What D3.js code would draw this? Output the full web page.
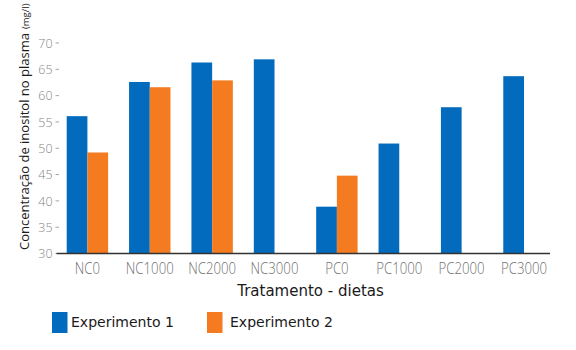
<!DOCTYPE html>
<html>
<head>
<meta charset="utf-8">
<script src="https://cdn.jsdelivr.net/npm/d3@7"></script>
<style>
  html, body { margin: 0; padding: 0; background: #fff; }
  svg { display: block; }
</style>
</head>
<body>
<svg id="chart" width="576" height="350"></svg>
<script>
// Plasma inositol concentration by diet treatment
const categories = ["NC0", "NC1000", "NC2000", "NC3000", "PC0", "PC1000", "PC2000", "PC3000"];
const seriesNames = ["Experimento 1", "Experimento 2"];
const experimento1 = [56.0, 62.5, 66.2, 66.8, 38.8, 50.8, 57.7, 63.6];
const experimento2 = [49.1, 61.5, 62.8, null, 44.7, null, null, null];
const yTicks = [30, 35, 40, 45, 50, 55, 60, 65, 70];
const colors = ["#026bbd", "#f57b20"];

const svg = d3.select("#chart");

const x = d3.scaleBand()
  .domain(categories)
  .range([66.7, 544.7])
  .paddingInner(0.336)
  .paddingOuter(0);

const xSeries = d3.scaleBand()
  .domain(seriesNames)
  .range([0, x.bandwidth()])
  .padding(0);

const y = d3.scaleLinear()
  .domain([30, 70])
  .range([253, 42.5]);

const seriesData = [experimento1, experimento2];

// Bars
const groups = svg.append("g")
  .selectAll("g")
  .data(categories)
  .join("g")
  .attr("transform", d => `translate(${x(d)},0)`);

groups.selectAll("rect")
  .data((d, i) => seriesNames.map((s, j) => ({ series: s, j, value: seriesData[j][i] })).filter(v => v.value != null))
  .join("rect")
  .attr("x", d => xSeries(d.series))
  .attr("width", xSeries.bandwidth())
  .attr("y", d => y(d.value))
  .attr("height", d => y(30) - y(d.value))
  .attr("fill", d => colors[d.j]);

// Y axis: light ticks and labels, no domain line
const yAxis = svg.append("g")
  .attr("transform", "translate(59,0)")
  .call(d3.axisLeft(y).tickValues(yTicks).tickSize(3.5).tickPadding(3).tickFormat(d3.format("d")));
yAxis.select(".domain").remove();
yAxis.selectAll(".tick line").attr("stroke", "#a5a5a5").attr("stroke-width", 1);
yAxis.selectAll(".tick text")
  .attr("fill", "#858585")
  .style("font-family", "'Open Sans', sans-serif")
  .style("font-weight", "300")
  .style("font-size", "13.5px")
  .attr("dy", "0.36em")
  .attr("transform", "scale(0.92,1)")
  .attr("x", -6.5 / 0.92);

// Baseline axis line
svg.append("line")
  .attr("x1", 56.5).attr("x2", 550)
  .attr("y1", 253.5).attr("y2", 253.5)
  .attr("stroke", "#333").attr("stroke-width", 1.6);

// Category labels
svg.append("g")
  .selectAll("text")
  .data(categories)
  .join("text")
  .attr("transform", d => `translate(${x(d) + x.bandwidth() / 2},274) scale(0.8,1)`)
  .attr("text-anchor", "middle")
  .attr("fill", "#707070")
  .style("font-family", "'Open Sans', sans-serif")
  .style("font-weight", "300")
  .style("font-size", "16.5px")
  .text(d => d);

// X axis title
svg.append("text")
  .attr("x", 310.5).attr("y", 296)
  .attr("text-anchor", "middle")
  .attr("fill", "#1a1a1a")
  .style("font-family", "'DejaVu Sans', sans-serif")
  .style("font-size", "15px")
  .text("Tratamento - dietas");

// Y axis title
const yTitle = svg.append("text")
  .attr("transform", "translate(29,250) rotate(-90)")
  .attr("text-anchor", "start")
  .attr("fill", "#1a1a1a")
  .style("font-family", "'Open Sans', sans-serif")
  .style("font-weight", "500");
yTitle.append("tspan")
  .style("font-size", "13.5px")
  .attr("textLength", 217)
  .attr("lengthAdjust", "spacingAndGlyphs")
  .text("Concentração de inositol no plasma");
yTitle.append("tspan")
  .attr("dx", 4)
  .style("font-size", "9.5px")
  .style("font-weight", "400")
  .text("(mg/l)");

// Legend
const legend = svg.append("g")
  .selectAll("g")
  .data(seriesNames)
  .join("g")
  .attr("transform", (d, i) => `translate(${[52, 207][i]},312)`);
legend.append("rect")
  .attr("width", 15.5).attr("height", 21)
  .attr("fill", (d, i) => colors[i]);
legend.append("text")
  .attr("x", (d, i) => [19, 23][i])
  .attr("y", 14.5)
  .attr("fill", "#1a1a1a")
  .style("font-family", "'DejaVu Sans', sans-serif")
  .style("font-size", "14px")
  .text(d => d);
</script>
</body>
</html>
